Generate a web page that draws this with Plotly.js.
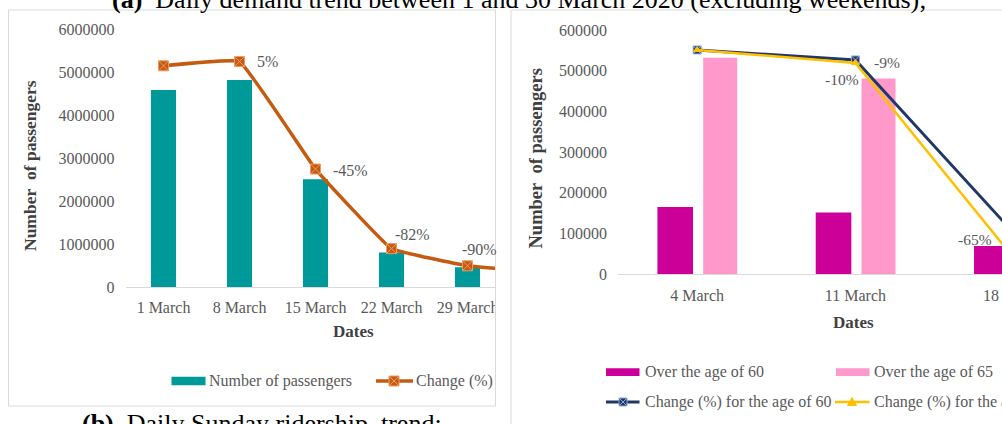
<!DOCTYPE html>
<html>
<head>
<meta charset="utf-8">
<script src="https://cdn.plot.ly/plotly-3.0.1.min.js"></script>
<style>
html,body{margin:0;padding:0;background:#fff;}
#wrap{position:relative;width:1002px;height:424px;overflow:hidden;background:#fff;}
#chart{position:absolute;left:0;top:0;width:1100px;height:460px;}
</style>
</head>
<body>
<div id="wrap"><div id="chart"></div></div>
<script>
// ---------- data: panel (b) Sunday ridership ----------
const leftDates = ['1 March', '8 March', '15 March', '22 March', '29 March', '5 April'];
const leftPassengers = [4590000, 4820000, 2510000, 810000, 465000, null];
const leftChange = [3, 5, -45, -82, -90, -93];
const leftChangeLabels = ['', '5%', '-45%', '-82%', '-90%', ''];

// ---------- data: right panel (elderly riders) ----------
const rightDates = ['4 March', '11 March', '18 March'];
const over60 = [165000, 152000, 69500];
const over65 = [532000, 481000, null];
const change60 = [10.2, 5.3, -79.7];
const change65 = [10.2, 3.8, -92];
const change60Labels = ['', '-9%', '-65%'];
const change65Labels = ['', '-10%', ''];

// ---------- layout helpers ----------
const W = 1100, H = 460;
const X = px => px / W;
const Y = py => 1 - py / H;
const FF = '"Liberation Serif", "Times New Roman", Times, serif';
const GRAY = '#595959';
const DARK = '#404040';
const ORANGE = '#C55A11', TEAL = '#009999', MAGENTA = '#CC0099', PINK = '#FF99CC', NAVY = '#203864', GOLD = '#FFC000';

const traces = [
  {type:'bar', x:leftDates, y:leftPassengers, xaxis:'x', yaxis:'y', width:0.33,
   marker:{color:TEAL}, hoverinfo:'skip'},
  {type:'scatter', mode:'lines+markers', x:leftDates, y:leftChange, xaxis:'x', yaxis:'y2',
   line:{color:ORANGE, width:3.5, shape:'spline', smoothing:0.25},
   marker:{symbol:'square-x', size:10, color:ORANGE, line:{color:'#EE9A63', width:1}}, hoverinfo:'skip'},
  {type:'bar', x:rightDates, y:over60, xaxis:'x2', yaxis:'y3', width:0.225, offset:-0.251,
   marker:{color:MAGENTA}, hoverinfo:'skip'},
  {type:'bar', x:rightDates, y:over65, xaxis:'x2', yaxis:'y3', width:0.215, offset:0.038,
   marker:{color:PINK}, hoverinfo:'skip'},
  {type:'scatter', mode:'lines+markers', x:rightDates, y:change60, xaxis:'x2', yaxis:'y4',
   line:{color:NAVY, width:3},
   marker:{symbol:'square-x', size:8, color:NAVY, line:{color:'#8FAADC', width:1}}, hoverinfo:'skip'},
  {type:'scatter', mode:'lines+markers', x:rightDates, y:change65, xaxis:'x2', yaxis:'y4',
   line:{color:GOLD, width:2.5},
   marker:{symbol:'triangle-up', size:8, color:GOLD}, hoverinfo:'skip'}
];

const tickFont = {family:FF, size:16, color:GRAY};
const annFont = (size, color, bold) => ({family:FF, size:size, color:color, weight: bold ? 'bold' : 'normal'});

const annotations = [];
// titles (cut by the frame)
annotations.push({xref:'paper', yref:'paper', x:X(518.5), y:Y(-0.3), xanchor:'center', yanchor:'middle', showarrow:false,
  text:'<b>(a)</b>\u00a0 Daily demand trend between 1 and 30 March 2020 (excluding weekends);', font:annFont(26,'#000')});
annotations.push({xref:'paper', yref:'paper', x:X(262), y:Y(423), xanchor:'center', yanchor:'middle', showarrow:false,
  text:'<b>(b)</b>\u00a0 Daily Sunday ridership\u00a0 trend;', font:annFont(26,'#000')});
// axis titles
annotations.push({xref:'paper', yref:'paper', x:X(30), y:Y(166), textangle:-90, showarrow:false, xanchor:'center', yanchor:'middle',
  text:'<b>Number\u00a0 of passengers</b>', font:annFont(17.5, DARK)});
annotations.push({xref:'paper', yref:'paper', x:X(353), y:Y(331), showarrow:false, xanchor:'center', yanchor:'middle',
  text:'<b>Dates</b>', font:annFont(17, DARK)});
annotations.push({xref:'paper', yref:'paper', x:X(535.5), y:Y(159), textangle:-90, showarrow:false, xanchor:'center', yanchor:'middle',
  text:'<b>Number\u00a0 of passengers</b>', font:annFont(18.5, DARK)});
annotations.push({xref:'paper', yref:'paper', x:X(853), y:Y(322), showarrow:false, xanchor:'center', yanchor:'middle',
  text:'<b>Dates</b>', font:annFont(17, DARK)});

// data labels
const leftShift = [null, [15,0], [15,-1], [1,14], [-8,16], null];
leftChangeLabels.forEach((t,i) => {
  if (!t) return;
  annotations.push({xref:'x', yref:'y2', x:leftDates[i], y:leftChange[i], text:t, showarrow:false,
    xanchor:'left', yanchor:'middle', xshift:leftShift[i][0], yshift:leftShift[i][1], font:annFont(16, GRAY)});
});
const r60Shift = [null, ['left',17,-3], ['right',-20,-7]];
change60Labels.forEach((t,i) => {
  if (!t) return;
  annotations.push({xref:'x2', yref:'y4', x:rightDates[i], y:change60[i], text:t, showarrow:false,
    xanchor:r60Shift[i][0], yanchor:'middle', xshift:r60Shift[i][1], yshift:r60Shift[i][2], font:annFont(15.5, GRAY)});
});
const r65Shift = [null, ['right',6,-17], null];
change65Labels.forEach((t,i) => {
  if (!t) return;
  annotations.push({xref:'x2', yref:'y4', x:rightDates[i], y:change65[i], text:t, showarrow:false,
    xanchor:r65Shift[i][0], yanchor:'middle', xshift:r65Shift[i][1], yshift:r65Shift[i][2], font:annFont(15.5, GRAY)});
});

// legend texts
const legText = (px, py, t) => ({xref:'paper', yref:'paper', x:X(px), y:Y(py), xanchor:'left', yanchor:'middle',
  showarrow:false, text:t, font:annFont(16, GRAY)});
annotations.push(legText(206.5, 381, 'Number of passengers'));
annotations.push(legText(413.5, 381, 'Change (%)'));
annotations.push(legText(642.5, 372, 'Over the age of 60'));
annotations.push(legText(872, 372, 'Over the age of 65'));
annotations.push(legText(642.5, 402, 'Change (%) for the age of 60'));
annotations.push(legText(872, 402, 'Change (%) for the age of 65'));

// shapes: gap, frames, legend swatches
const BORDER = '#D9D9D9';
const shapes = [
  {type:'rect', xref:'paper', yref:'paper', x0:X(496), x1:X(510.5), y0:Y(460), y1:Y(0), fillcolor:'#fff', line:{width:0}, layer:'above'},
  {type:'rect', xref:'paper', yref:'paper', x0:X(8.5), x1:X(495.5), y0:Y(406), y1:Y(10), line:{color:BORDER, width:1}, layer:'above'},
  {type:'line', xref:'paper', yref:'paper', x0:X(511), x1:X(511), y0:Y(10), y1:Y(460), line:{color:BORDER, width:1}, layer:'above'},
  {type:'line', xref:'paper', yref:'paper', x0:X(511), x1:X(1100), y0:Y(10), y1:Y(10), line:{color:BORDER, width:1}, layer:'above'},
  // left legend
  {type:'rect', xref:'paper', yref:'paper', x0:X(171.5), x1:X(205.5), y0:Y(385.3), y1:Y(376.7), fillcolor:TEAL, line:{width:0}, layer:'above'},
  {type:'line', xref:'paper', yref:'paper', x0:X(376), x1:X(413), y0:Y(381), y1:Y(381), line:{color:ORANGE, width:3.5}, layer:'above'},
  {type:'path', xref:'paper', yref:'paper', xsizemode:'pixel', ysizemode:'pixel', xanchor:X(394), yanchor:Y(381),
   path:'M-5,-5H5V5H-5Z M-5,-5L5,5 M-5,5L5,-5', fillcolor:ORANGE, line:{color:'#EE9A63', width:1}, layer:'above'},
  // right legend
  {type:'rect', xref:'paper', yref:'paper', x0:X(606), x1:X(639.5), y0:Y(376), y1:Y(368.3), fillcolor:MAGENTA, line:{width:0}, layer:'above'},
  {type:'rect', xref:'paper', yref:'paper', x0:X(836), x1:X(869.5), y0:Y(376), y1:Y(368.3), fillcolor:PINK, line:{width:0}, layer:'above'},
  {type:'line', xref:'paper', yref:'paper', x0:X(606), x1:X(639.5), y0:Y(402), y1:Y(402), line:{color:NAVY, width:3}, layer:'above'},
  {type:'path', xref:'paper', yref:'paper', xsizemode:'pixel', ysizemode:'pixel', xanchor:X(623), yanchor:Y(402),
   path:'M-4,-4H4V4H-4Z M-4,-4L4,4 M-4,4L4,-4', fillcolor:NAVY, line:{color:'#8FAADC', width:1}, layer:'above'},
  {type:'line', xref:'paper', yref:'paper', x0:X(835), x1:X(869.5), y0:Y(402), y1:Y(402), line:{color:GOLD, width:2.5}, layer:'above'},
  {type:'path', xref:'paper', yref:'paper', xsizemode:'pixel', ysizemode:'pixel', xanchor:X(852), yanchor:Y(402),
   path:'M-4.5,-3.5L4.5,-3.5L0,4.5Z', fillcolor:GOLD, line:{color:GOLD, width:1}, layer:'above'}
];

const layout = {
  width:W, height:H,
  margin:{l:0, r:0, t:0, b:0, pad:0},
  paper_bgcolor:'#fff', plot_bgcolor:'#fff',
  showlegend:false,
  barmode:'group',
  xaxis:{domain:[X(125.5), X(505.5)], range:[-0.5, 4.5], type:'category', anchor:'y',
    showline:true, linecolor:BORDER, linewidth:1, ticks:'', showgrid:false, zeroline:false,
    tickfont:tickFont, ticklabelstandoff:5, fixedrange:true},
  yaxis:{domain:[Y(287.3), Y(29.3)], range:[0, 6000000], dtick:1000000, tickformat:'d', anchor:'x',
    showgrid:false, zeroline:false, showline:false, ticks:'', tickfont:tickFont, ticklabelstandoff:10, fixedrange:true},
  yaxis2:{overlaying:'y', anchor:'x', range:[-100, 20], visible:false, fixedrange:true},
  xaxis2:{domain:[X(618), 1], range:[-0.5, -0.5 + 482/158.3], type:'category', anchor:'y3',
    showline:true, linecolor:BORDER, linewidth:1, ticks:'', showgrid:false, zeroline:false,
    tickfont:tickFont, ticklabelstandoff:6, fixedrange:true},
  yaxis3:{domain:[Y(274.3), Y(30)], range:[0, 600000], dtick:100000, tickformat:'d', anchor:'x2',
    showgrid:false, zeroline:false, showline:false, ticks:'', tickfont:tickFont, ticklabelstandoff:10, fixedrange:true},
  yaxis4:{overlaying:'y3', anchor:'x2', range:[-100, 20], visible:false, fixedrange:true},
  annotations:annotations,
  shapes:shapes
};

Plotly.newPlot('chart', traces, layout, {displayModeBar:false, staticPlot:true});
</script>
</body>
</html>
